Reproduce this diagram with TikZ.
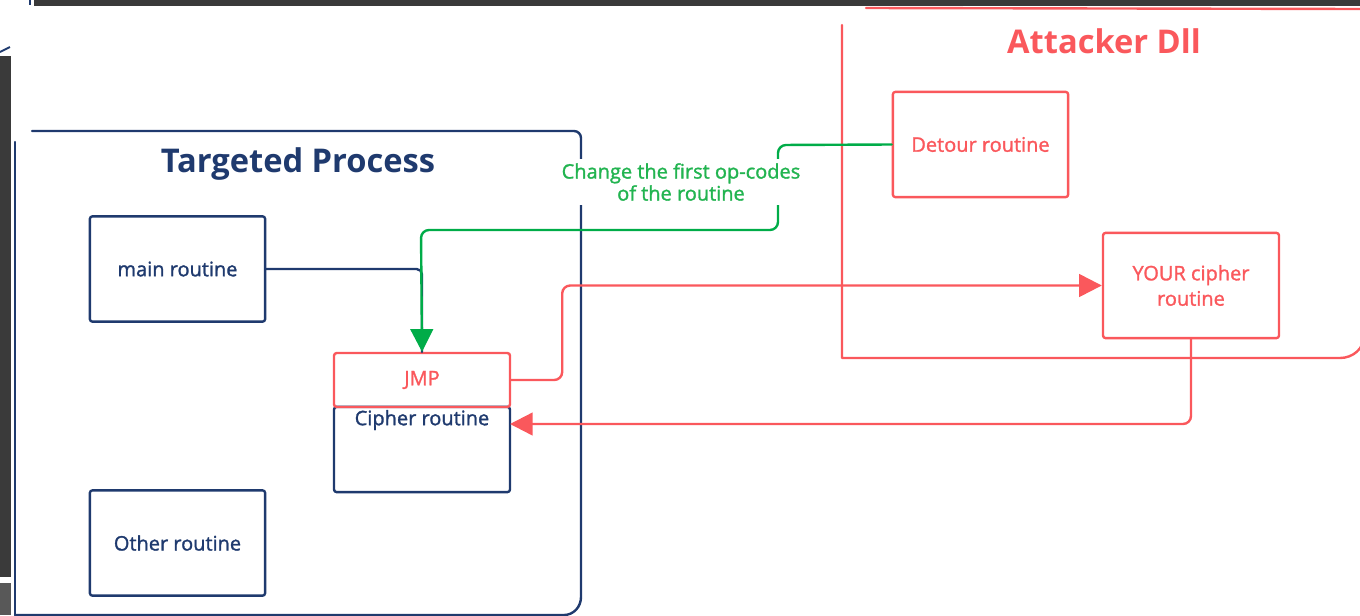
\documentclass[tikz,border=0pt]{standalone}
\usepackage{fontspec}
\setmainfont{Open Sans}
\newfontfamily\labelfont{Open Sans}[FakeBold=1.4]
\usetikzlibrary{arrows.meta}
\definecolor{navy}{RGB}{31,58,110}
\definecolor{salmon}{RGB}{250,88,92}
\definecolor{leaf}{RGB}{0,172,72}
\definecolor{leaftext}{RGB}{34,180,80}
\definecolor{chrome}{RGB}{58,58,58}
\definecolor{chromelight}{RGB}{88,88,88}

\begin{document}
\begin{tikzpicture}[x=0.75pt,y=-0.75pt,
  stroke/.style={line width=1.8pt, line cap=round, line join=round},
  box/.style={stroke, draw, rounded corners=2pt, minimum width=131.5pt, minimum height=79pt,
    inner sep=0pt, align=center, font=\labelfont\fontsize{15}{19}\selectfont},
  procbox/.style={box, draw=navy, text=navy},
  dllbox/.style={box, draw=salmon, text=salmon},
  title/.style={font=\fontsize{24.5}{28}\selectfont\bfseries},
  tip/.style={-{Triangle[length=17pt,width=17pt]}},
]
\useasboundingbox (0,0) rectangle (1360,615);
\clip (0,0) rectangle (1360,615);

% window chrome around the canvas
\fill[chrome] (34,0) rectangle (1360,6);
\fill[chrome] (0,56) rectangle (11,577);
\fill[chromelight] (0,583) rectangle (11,615);
\draw[navy, line width=1.2pt] (30,0) -- (30,5);
\draw[navy, line width=1.5pt] (0,52) -- (10,47);

% Targeted Process frame
\draw[navy, stroke] (32,131) -- (574,131) to[out=0,in=90] (581,138) -- (581,597)
  to[out=270,in=0] (564,615) -- (15,615);
\draw[navy, stroke] (15,142) -- (15,615);
\node[title, text=navy] (proc) at (298,164) {Targeted Process};

% Attacker Dll frame
\draw[salmon, stroke] (866,8) -- (1362,9);
\draw[salmon, stroke] (842,25) -- (842,358) -- (1340,358) to[out=0,in=270] (1364,336);
\node[title, text=salmon] (dll) at (1104,41) {Attacker Dll};

% routines of the target process
\node[procbox] (main) at (177.5,269) {main routine};
\node[procbox] (other) at (177.5,543) {Other routine};
\node[procbox, minimum width=132pt, minimum height=64pt] (cipher) at (422,449.5) {};
\node[navy, font=\labelfont\fontsize{15}{18}\selectfont] (ciphertxt) at (422,420) {Cipher routine};
\node[dllbox, minimum width=132pt, minimum height=40.5pt] (jmp) at (422,380) {JMP};

% routines of the injected library
\node[dllbox] (detour) at (980.5,144.5) {Detour routine};
\node[dllbox, minimum width=132pt] (your) at (1191,285.5) {YOUR cipher\\routine};

% normal call path
\draw[navy, stroke, rounded corners=4pt] (main.east) -| (jmp.north);

% hook: jump out to the replacement and back
\coordinate (back) at (510,424);
\draw[salmon, stroke, tip, rounded corners=6pt] (jmp.east) -- ++(51,0) |- (your.west);
\draw[salmon, stroke, tip, rounded corners=6pt] (your.south) |- (back);

% detour patches the first op-codes
\draw[leaf, stroke, tip, rounded corners=6pt] (detour.west) -- (778,145) -- (778,230)
  -- (421,230) -- (jmp.north);
\node[fill=white, text=leaftext, align=center, inner xsep=2pt, inner ysep=3pt,
  font=\labelfont\fontsize{15}{16.5}\selectfont] (note) at (681,182)
  {Change the first op-codes\\of the routine};
\end{tikzpicture}
\end{document}
